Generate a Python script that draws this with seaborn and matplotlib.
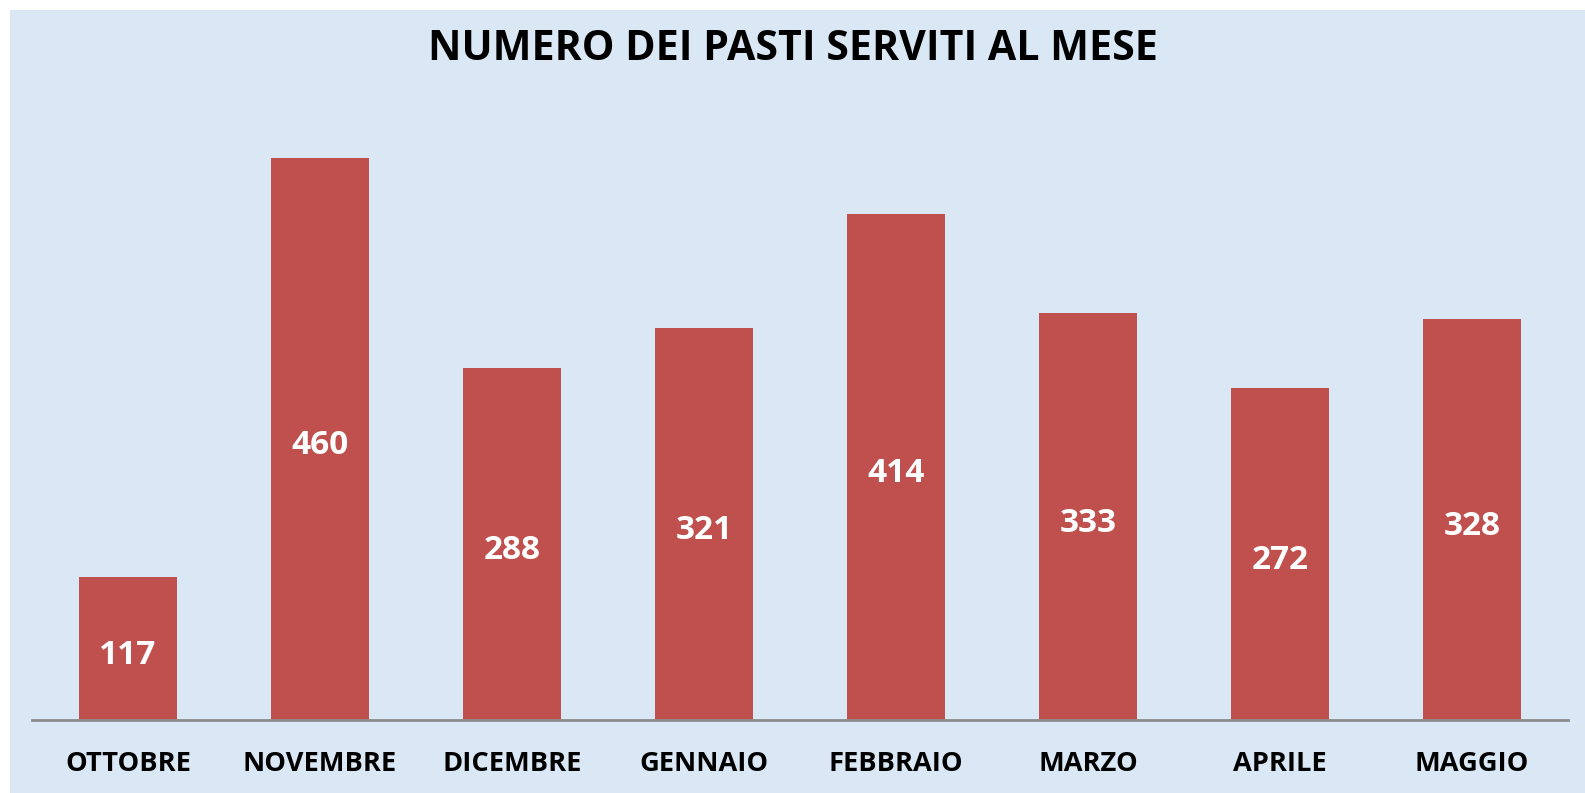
import matplotlib
matplotlib.use("Agg")
import matplotlib.pyplot as plt
import seaborn as sns
import pandas as pd
from matplotlib.patches import Rectangle

months = ["OTTOBRE", "NOVEMBRE", "DICEMBRE", "GENNAIO", "FEBBRAIO", "MARZO", "APRILE", "MAGGIO"]
meals = [117, 460, 288, 321, 414, 333, 272, 328]
title = "NUMERO DEI PASTI SERVITI AL MESE"

sns.set_theme(style="white")
plt.rcParams['font.family'] = ['Open Sans', 'DejaVu Sans']

W, H = 1585, 793
fig = plt.figure(figsize=(W / 100, H / 100), dpi=100, facecolor="white")
bg = Rectangle((10 / W, 0), 1 - 10 / W, 1 - 10 / H, transform=fig.transFigure,
               facecolor="#DAE7F4", edgecolor="none", zorder=-10)
fig.patches.append(bg)

ax = fig.add_axes([32 / W, (H - 720) / H, 1536 / W, 611 / H])
ax.set_facecolor("none")

df = pd.DataFrame({"mese": months, "pasti": meals})
sns.barplot(data=df, x="mese", y="pasti", color="#C0504D", saturation=1,
            width=0.51, ax=ax, edgecolor="none")

ax.set_xlim(-0.5, len(months) - 0.5)
ax.set_ylim(0, 500)
ax.set_yticks([])
ax.set_xlabel("")
ax.set_ylabel("")
for s in ["top", "right", "left"]:
    ax.spines[s].set_visible(False)
ax.spines["bottom"].set_color("#8C8C8C")
ax.spines["bottom"].set_linewidth(2)
ax.tick_params(axis="x", length=0, pad=22)
for lbl in ax.get_xticklabels():
    lbl.set_fontsize(19.6)
    lbl.set_fontweight("bold")
    lbl.set_color("black")

for i, v in enumerate(meals):
    ax.annotate(str(v), xy=(i, v / 2), xytext=(0, -2), textcoords="offset points",
                ha="center", va="center_baseline", color="white",
                fontsize=24, fontweight="bold")

fig.text(0.5, 1 - 45 / H, title, ha="center", va="center_baseline", fontsize=29.6,
         fontweight="bold", color="black")

fig.savefig("out.png", dpi=100, facecolor="white")
